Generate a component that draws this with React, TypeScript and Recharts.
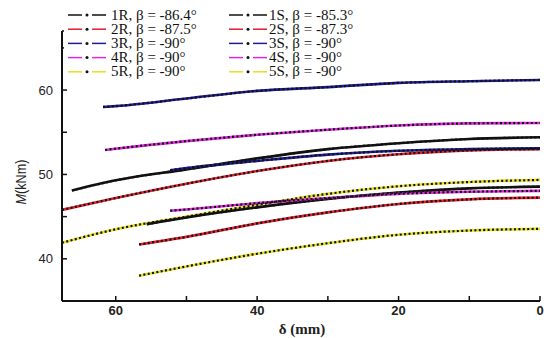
import React from 'react';
import { LineChart, Line, XAxis, YAxis, ReferenceLine } from 'recharts';

// δ (mm) / M (kNm) pairs
const d1R = [66.2, 60, 50, 40, 30, 20, 10, 0];
const m1R = [48.1, 49.3, 50.6, 51.9, 53.0, 53.7, 54.2, 54.4];
const d2R = [67.6, 60, 50, 40, 30, 20, 10, 0];
const m2R = [45.8, 47.2, 48.9, 50.4, 51.6, 52.4, 52.85, 53.0];
const d3R = [61.8, 60, 50, 40, 30, 20, 10, 0];
const m3R = [58.0, 58.1, 59.0, 59.9, 60.35, 60.85, 61.05, 61.2];
const d4R = [61.5, 60, 50, 40, 30, 20, 10, 0];
const m4R = [52.9, 53.05, 53.95, 54.7, 55.3, 55.8, 56.05, 56.1];
const d5R = [67.6, 60, 50, 40, 30, 20, 10, 0];
const m5R = [41.9, 43.5, 45.0, 46.4, 47.7, 48.6, 49.1, 49.35];

const d1S = [55.6, 50, 40, 30, 20, 10, 0];
const m1S = [44.1, 44.9, 46.1, 47.1, 47.85, 48.35, 48.55];
const d2S = [56.7, 50, 40, 30, 20, 10, 0];
const m2S = [41.7, 42.6, 44.2, 45.5, 46.5, 47.05, 47.25];
const d3S = [52.3, 50, 40, 30, 20, 10, 0];
const m3S = [50.5, 50.75, 51.6, 52.35, 52.8, 53.0, 53.1];
const d4S = [52.3, 50, 40, 30, 20, 10, 0];
const m4S = [45.7, 45.85, 46.6, 47.2, 47.7, 47.95, 48.05];
const d5S = [56.7, 50, 40, 30, 20, 10, 0];
const m5S = [38.0, 39.1, 40.6, 41.85, 42.85, 43.35, 43.55];

const xTicks = [0, 10, 20, 30, 40, 50, 60];
const yTicks = [40, 45, 50, 55, 60, 65];

const toPts = (d: number[], m: number[]) => d.map((x, i) => ({ x, y: m[i] }));

const series = [
  { id: '1R', beta: '-86.4°', color: '#111111', data: toPts(d1R, m1R) },
  { id: '2R', beta: '-87.5°', color: '#e0202c', data: toPts(d2R, m2R) },
  { id: '3R', beta: '-90°', color: '#1c1c96', data: toPts(d3R, m3R) },
  { id: '4R', beta: '-90°', color: '#e028e0', data: toPts(d4R, m4R) },
  { id: '5R', beta: '-90°', color: '#e6e020', data: toPts(d5R, m5R) },
  { id: '1S', beta: '-85.3°', color: '#111111', data: toPts(d1S, m1S) },
  { id: '2S', beta: '-87.3°', color: '#e0202c', data: toPts(d2S, m2S) },
  { id: '3S', beta: '-90°', color: '#1c1c96', data: toPts(d3S, m3S) },
  { id: '4S', beta: '-90°', color: '#e028e0', data: toPts(d4S, m4S) },
  { id: '5S', beta: '-90°', color: '#e6e020', data: toPts(d5S, m5S) },
];

const serif = '"Liberation Serif", "Times New Roman", serif';
const sans = '"Liberation Sans", Arial, sans-serif';

// legend drawn on top of the chart, with a white box like the original
const LegendBox = () => {
  const col = (items: typeof series, lineX: number, textX: number) =>
    items.map((s, i) => {
      const cy = 15 + i * 14.2;
      return (
        <g key={s.id}>
          <line x1={lineX} x2={lineX + 14} y1={cy} y2={cy} stroke={s.color} strokeWidth={1.5} />
          <circle cx={lineX + 19} cy={cy} r={1.5} fill="#111" />
          <line x1={lineX + 24} x2={lineX + 38} y1={cy} y2={cy} stroke={s.color} strokeWidth={1.5} />
          <text x={textX} y={cy + 4.5} fontFamily={serif} fontSize={15} fill="#111">
            {`${s.id}, β = ${s.beta}`}
          </text>
        </g>
      );
    });
  return (
    <svg width={380} height={80} style={{ position: 'absolute', left: 0, top: 0 }}>
      <rect x={64} y={4} width={300} height={74} fill="#fff" />
      {col(series.slice(0, 5), 68, 111)}
      {col(series.slice(5), 229, 269)}
    </svg>
  );
};

export default function App() {
  return (
    <div style={{ position: 'absolute', left: 0, top: 0, width: 554, height: 338, background: '#fff' }}>
      <LineChart width={554} height={338} margin={{ top: 31, right: 14, bottom: 0, left: 0 }}>
        <XAxis
          type="number"
          dataKey="x"
          domain={[0, 67.6]}
          reversed
          allowDataOverflow
          ticks={xTicks}
          interval={0}
          tickFormatter={(v: number) => (v % 20 === 0 ? String(v) : '')}
          height={37}
          tickSize={-5}
          tickMargin={10}
          axisLine={{ stroke: '#111', strokeWidth: 2 }}
          tickLine={{ stroke: '#111', strokeWidth: 1.5 }}
          tick={{ fill: '#222', fontSize: 13, fontFamily: sans, fontWeight: 'bold' }}
          label={{
            content: () => (
              <text x={302} y={334} textAnchor="middle" fontFamily={serif} fontSize={15} fontWeight="bold" fill="#222">
                δ (mm)
              </text>
            ),
          }}
        />
        <YAxis
          type="number"
          dataKey="y"
          domain={[35, 67]}
          allowDataOverflow
          ticks={yTicks}
          interval={0}
          tickFormatter={(v: number) => (v % 10 === 0 ? String(v) : '')}
          width={62}
          tickSize={-5}
          tickMargin={14}
          axisLine={{ stroke: '#111', strokeWidth: 2 }}
          tickLine={{ stroke: '#111', strokeWidth: 1.5 }}
          tick={{ fill: '#222', fontSize: 13, fontFamily: sans }}
          label={{
            content: () => (
              <text
                x={26}
                y={182}
                transform="rotate(-90 26 182)"
                textAnchor="middle"
                fontFamily={sans}
                fontSize={15}
                fill="#222"
                textLength={45}
                lengthAdjust="spacingAndGlyphs"
              >
                <tspan fontStyle="italic">M</tspan>
                <tspan>(kNm)</tspan>
              </text>
            ),
          }}
        />
        <ReferenceLine
          segment={[{ x: 67.6, y: 67 }, { x: 65.6, y: 67 }]}
          stroke="#111"
          strokeWidth={1.5}
          ifOverflow="visible"
        />
        {series.map((s) => (
          <Line
            key={s.id + '-base'}
            data={s.data}
            dataKey="y"
            type="monotone"
            stroke={s.color}
            strokeWidth={2.6}
            dot={false}
            activeDot={false}
            isAnimationActive={false}
            legendType="none"
          />
        ))}
        {series.map((s) => (
          <Line
            key={s.id + '-dots'}
            data={s.data}
            dataKey="y"
            type="monotone"
            stroke="#111"
            strokeWidth={2.2}
            strokeDasharray="2 2.4"
            dot={false}
            activeDot={false}
            isAnimationActive={false}
            legendType="none"
          />
        ))}
      </LineChart>
      <LegendBox />
    </div>
  );
}
